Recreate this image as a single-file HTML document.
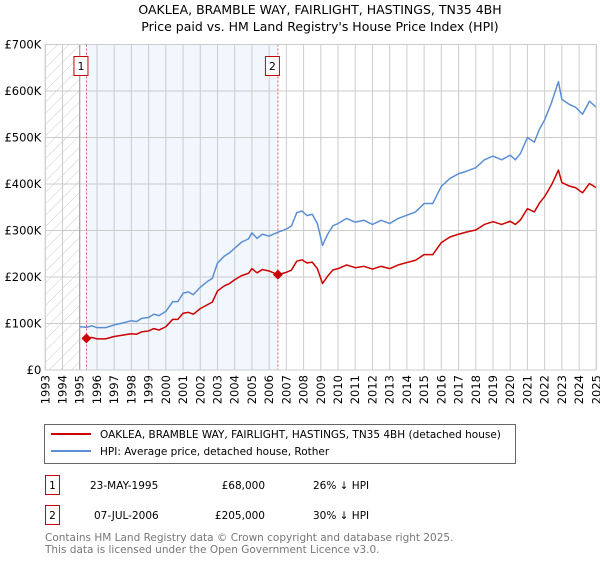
<!DOCTYPE html>
<html><head><meta charset="utf-8"><style>
body{margin:0;background:#fff;font-family:"Liberation Sans","DejaVu Sans",sans-serif;}
svg text{font-family:"DejaVu Sans","Liberation Sans",sans-serif;}
</style></head><body>
<svg id="c" width="600" height="560" viewBox="0 0 600 560" xmlns="http://www.w3.org/2000/svg">
<text x="320" y="14" text-anchor="middle" font-size="12.5" fill="#000">OAKLEA, BRAMBLE WAY, FAIRLIGHT, HASTINGS, TN35 4BH</text>
<text x="320" y="31" text-anchor="middle" font-size="12.5" fill="#000">Price paid vs. HM Land Registry's House Price Index (HPI)</text>
<defs><pattern id="hatch" width="8" height="8" patternUnits="userSpaceOnUse" patternTransform="rotate(45)"><line x1="0" y1="0" x2="0" y2="8" stroke="#ccc" stroke-width="1"/></pattern></defs>
<g id="plot"></g>
<g id="legend">
<rect x="44.5" y="424.5" width="471" height="39" fill="#fff" stroke="#666"/>
<line x1="51" y1="434" x2="91" y2="434" stroke="#cc0000" stroke-width="2"/>
<text x="100" y="438" font-size="10.5">OAKLEA, BRAMBLE WAY, FAIRLIGHT, HASTINGS, TN35 4BH (detached house)</text>
<line x1="51" y1="451" x2="91" y2="451" stroke="#5b8fd4" stroke-width="2"/>
<text x="100" y="455" font-size="10.5">HPI: Average price, detached house, Rother</text>
</g>
<g font-size="10.5">
<rect x="45.5" y="475.5" width="14" height="19" fill="#fff" stroke="#cc0000"/>
<text x="52.5" y="489" text-anchor="middle">1</text>
<text x="90" y="489">23-MAY-1995</text>
<text x="265" y="489" text-anchor="end">£68,000</text>
<text x="313" y="489">26% ↓ HPI</text>
<rect x="45.5" y="505.5" width="14" height="19" fill="#fff" stroke="#cc0000"/>
<text x="52.5" y="519" text-anchor="middle">2</text>
<text x="94" y="519">07-JUL-2006</text>
<text x="265" y="519" text-anchor="end">£205,000</text>
<text x="313" y="519">30% ↓ HPI</text>
</g>
<text x="45" y="541" font-size="10.5" fill="#777">Contains HM Land Registry data © Crown copyright and database right 2025.</text>
<text x="45" y="553" font-size="10.5" fill="#777">This data is licensed under the Open Government Licence v3.0.</text>
</svg>
<script>
const yTicks=[0,100,200,300,400,500,600,700];
const yTickLabels=["£0","£100K","£200K","£300K","£400K","£500K","£600K","£700K"];
const xYears=[1993,1994,1995,1996,1997,1998,1999,2000,2001,2002,2003,2004,2005,2006,2007,2008,2009,2010,2011,2012,2013,2014,2015,2016,2017,2018,2019,2020,2021,2022,2023,2024,2025];
const hpiDates=[1995.0,1995.4,1995.7,1996.0,1996.5,1997.0,1997.5,1998.0,1998.3,1998.6,1999.0,1999.3,1999.6,2000.0,2000.4,2000.7,2001.0,2001.3,2001.6,2002.0,2002.4,2002.7,2003.0,2003.4,2003.7,2004.0,2004.4,2004.8,2005.0,2005.3,2005.6,2006.0,2006.5,2007.0,2007.3,2007.6,2007.9,2008.2,2008.5,2008.8,2009.1,2009.4,2009.7,2010.0,2010.5,2011.0,2011.5,2012.0,2012.5,2013.0,2013.5,2014.0,2014.5,2015.0,2015.5,2016.0,2016.5,2017.0,2017.5,2018.0,2018.5,2019.0,2019.5,2020.0,2020.3,2020.6,2021.0,2021.4,2021.7,2022.0,2022.4,2022.8,2023.0,2023.4,2023.8,2024.2,2024.6,2025.0];
const hpiValues=[93,92,95,91,91,97,101,106,104,111,113,120,117,126,147,147,165,168,162,178,190,197,230,245,252,262,275,282,295,283,292,288,296,303,310,338,342,332,335,315,268,292,310,315,326,318,322,313,322,315,326,333,340,358,358,395,412,422,428,435,452,460,452,462,452,466,500,490,518,538,575,620,582,572,565,550,578,565];
const priceDates=[1995.4,1995.7,1996.0,1996.5,1997.0,1997.5,1998.0,1998.3,1998.6,1999.0,1999.3,1999.6,2000.0,2000.4,2000.7,2001.0,2001.3,2001.6,2002.0,2002.4,2002.7,2003.0,2003.4,2003.7,2004.0,2004.4,2004.8,2005.0,2005.3,2005.6,2006.0,2006.5,2007.0,2007.3,2007.6,2007.9,2008.2,2008.5,2008.8,2009.1,2009.4,2009.7,2010.0,2010.5,2011.0,2011.5,2012.0,2012.5,2013.0,2013.5,2014.0,2014.5,2015.0,2015.5,2016.0,2016.5,2017.0,2017.5,2018.0,2018.5,2019.0,2019.5,2020.0,2020.3,2020.6,2021.0,2021.4,2021.7,2022.0,2022.4,2022.8,2023.0,2023.4,2023.8,2024.2,2024.6,2025.0];
const priceValues=[68,70,67,67,72,75,78,77,82,84,89,86,93,109,109,122,124,120,132,140,146,170,181,186,194,203,208,218,209,216,213,205,210,215,234,237,230,232,218,186,202,215,218,226,220,223,217,223,218,226,231,236,248,248,274,286,292,297,301,313,319,313,320,313,323,347,340,359,373,398,430,403,396,392,381,401,392];
const saleDates=[1995.39,2006.51];
const saleValues=[68,205];
const saleLabels=["1","2"];

const X0=45.3,X1=596.3,Y0=370,Y1=44.5;
const xs=y=>X0+(y-1993)*(X1-X0)/32;
const ys=v=>Y0-v*(Y0-Y1)/700;
const NS="http://www.w3.org/2000/svg";
const g=document.getElementById('plot');
function mk(t,a){const e=document.createElementNS(NS,t);for(const k in a)e.setAttribute(k,a[k]);g.appendChild(e);return e;}
let e;
e=mk('rect',{x:X0,y:Y1,width:X1-X0,height:Y0-Y1,fill:'#fff'});


e=mk('rect',{x:xs(saleDates[0]),y:Y1,width:xs(saleDates[1])-xs(saleDates[0]),height:Y0-Y1,fill:'#f2f6fd'});


e=mk('rect',{x:X0,y:Y1,width:xs(1995)-X0,height:Y0-Y1,fill:'url(#hatch)'});


xYears.forEach((yr,i)=>{
  e=mk('line',{x1:xs(yr),x2:xs(yr),y1:Y1,y2:Y0,stroke:'#ccc','stroke-width':1});
  
  
  const t=mk('text',{x:0,y:0,'font-size':11.5,'text-anchor':'end',transform:`translate(${xs(yr)+4},${Y0+5}) rotate(-90)`});
  t.textContent=yr;
  
  
});
yTicks.forEach((v,i)=>{
  e=mk('line',{x1:X0,x2:X1,y1:ys(v),y2:ys(v),stroke:'#ccc','stroke-width':1});
  
  
  const t=mk('text',{x:X0-4,y:ys(v)+4,'font-size':11.5,'text-anchor':'end'});
  t.textContent=yTickLabels[i];
  
  
});
e=mk('line',{x1:xs(1995),x2:xs(1995),y1:Y1,y2:Y0,stroke:'#999','stroke-width':1});


saleDates.forEach((d,i)=>{
  e=mk('line',{x1:xs(d),x2:xs(d),y1:Y1,y2:Y0,stroke:'#e06060','stroke-width':1,'stroke-dasharray':'2,2'});
  
  
  e=mk('rect',{x:xs(d)-12.5,y:56.5,width:14,height:19,fill:'#fff',stroke:'#cc0000'});
  
  
  const t=mk('text',{x:xs(d)-5.5,y:70,'font-size':11,'text-anchor':'middle'});
  t.textContent=saleLabels[i];
  
  
});
e=mk('polyline',{points:hpiDates.map((d,i)=>xs(d)+','+ys(hpiValues[i])).join(' '),fill:'none',stroke:'#5b8fd4','stroke-width':1.5,'stroke-linejoin':'round'});


e=mk('polyline',{points:priceDates.map((d,i)=>xs(d)+','+ys(priceValues[i])).join(' '),fill:'none',stroke:'#cc0000','stroke-width':1.5,'stroke-linejoin':'round'});


saleDates.forEach((d,i)=>{
  const cx=xs(d),cy=ys(saleValues[i]);
  e=mk('polygon',{points:`${cx},${cy-5} ${cx+5},${cy} ${cx},${cy+5} ${cx-5},${cy}`,fill:'#cc0000'});
  
  
});
e=mk('rect',{x:X0,y:Y1,width:X1-X0,height:Y0-Y1,fill:'none',stroke:'#ccc'});


</script>
</body></html>
